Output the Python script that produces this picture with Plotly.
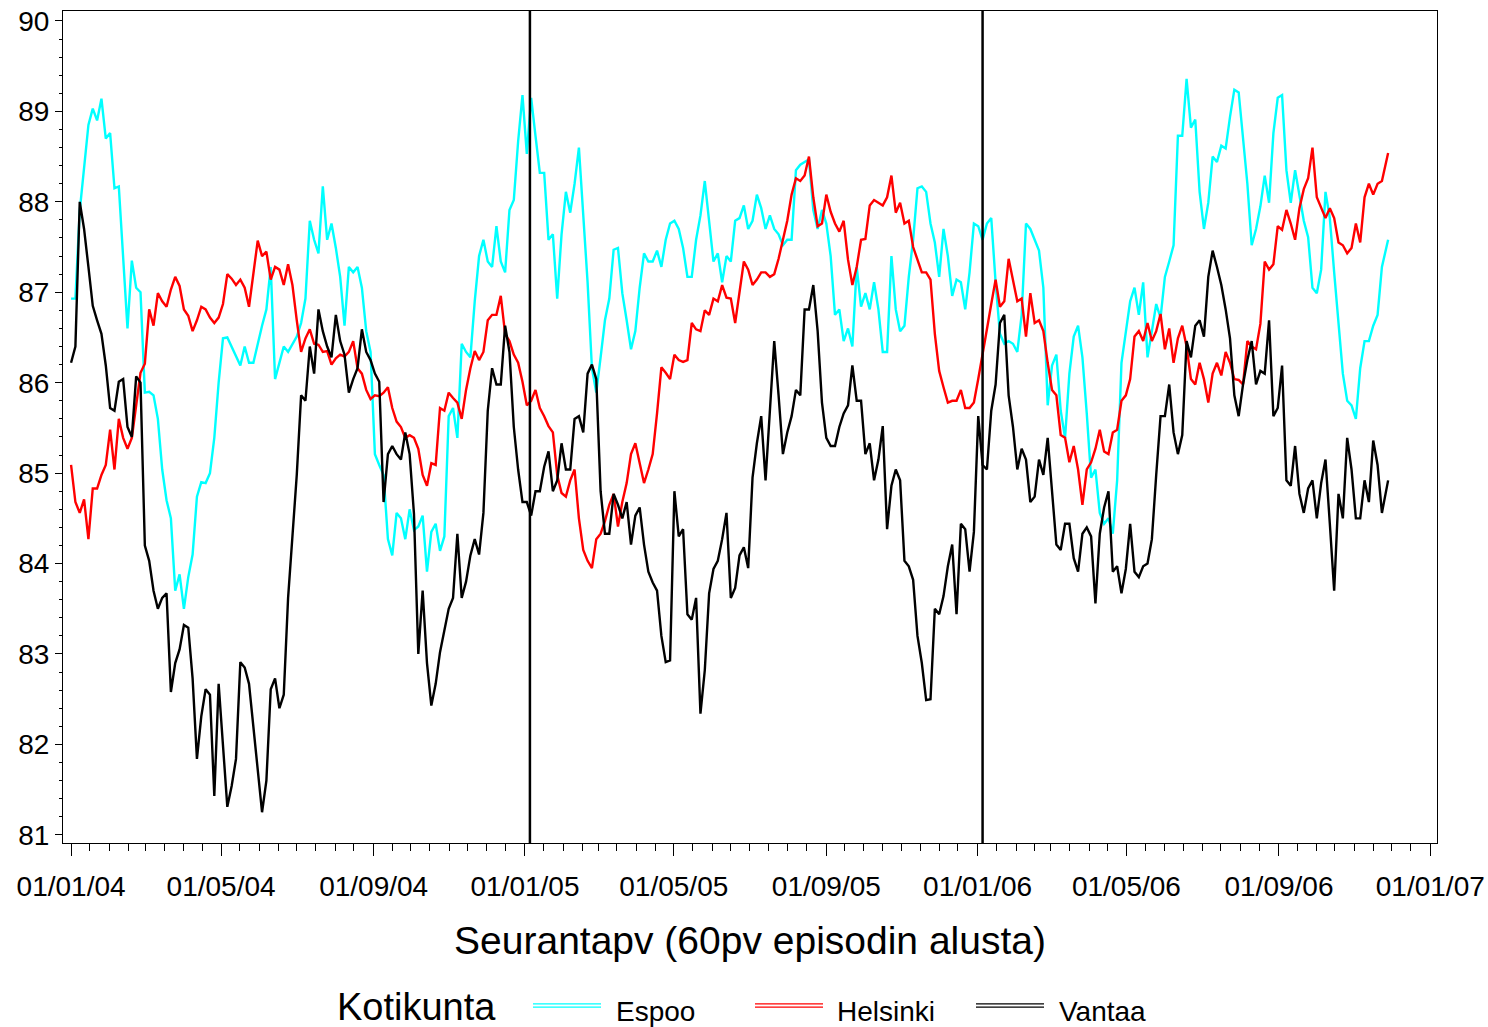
import pandas as pd
import plotly.graph_objects as go

# ---------------- data: readings every 3.5 days from 2004-01-01, last reading 2006-11-28 ----------------
dates = list(pd.date_range("2004-01-01", periods=303, freq="84h")) + [pd.Timestamp("2006-11-28")]

espoo = [
    86.93, 86.93, 87.9, 88.41, 88.85, 89.03, 88.9, 89.14, 88.7, 88.76,
    88.15, 88.17, 87.4, 86.6, 87.35, 87.05, 87.0, 85.89, 85.9, 85.86,
    85.6, 85.04, 84.7, 84.5, 83.7, 83.88, 83.5, 83.85, 84.1, 84.74,
    84.9, 84.89, 85.0, 85.39, 86.0, 86.49, 86.5, 86.4, 86.3, 86.19,
    86.4, 86.22, 86.22, 86.43, 86.63, 86.81, 87.28, 86.04, 86.22, 86.4,
    86.34, 86.43, 86.51, 86.66, 86.93, 87.79, 87.58, 87.43, 88.17, 87.58,
    87.76, 87.49, 87.17, 86.63, 87.28, 87.22, 87.28, 87.05, 86.57, 86.34,
    85.21, 85.09, 84.98, 84.27, 84.09, 84.56, 84.5, 84.27, 84.6, 84.37,
    84.41, 84.53, 83.91, 84.35, 84.44, 84.14, 84.3, 85.63, 85.72, 85.39,
    86.43, 86.34, 86.28, 86.9, 87.4, 87.58, 87.34, 87.28, 87.73, 87.34,
    87.22, 87.91, 88.02, 88.67, 89.18, 88.53, 89.15, 88.73, 88.32, 88.32,
    87.58, 87.64, 86.93, 87.64, 88.11, 87.88, 88.2, 88.6, 87.88, 87.11,
    86.16, 85.89, 86.28, 86.69, 86.93, 87.47, 87.49, 86.99, 86.69, 86.37,
    86.57, 87.05, 87.43, 87.34, 87.34, 87.46, 87.28, 87.58, 87.76, 87.79,
    87.7, 87.49, 87.17, 87.17, 87.58, 87.85, 88.23, 87.82, 87.34, 87.43,
    87.11, 87.4, 87.34, 87.79, 87.82, 87.96, 87.7, 87.79, 88.08, 87.93,
    87.7, 87.85, 87.7, 87.64, 87.52, 87.58, 87.58, 88.35, 88.41, 88.44,
    88.47, 87.91, 87.7, 87.91, 87.76, 87.4, 86.75, 86.81, 86.46, 86.6,
    86.4, 87.28, 86.84, 86.99, 86.81, 87.11, 86.81, 86.34, 86.34, 87.4,
    86.81, 86.57, 86.63, 87.17, 87.58, 88.15, 88.17, 88.11, 87.76, 87.55,
    87.17, 87.7, 87.4, 86.96, 87.14, 87.11, 86.81, 87.22, 87.76, 87.73,
    87.58, 87.76, 87.82, 87.11, 86.54, 86.43, 86.46, 86.43, 86.34, 86.75,
    87.76, 87.7, 87.58, 87.46, 87.05, 85.75, 86.19, 86.31, 85.69, 85.39,
    86.1, 86.51, 86.63, 86.28, 85.66, 84.95, 85.04, 84.56, 84.44, 84.5,
    84.33, 84.92, 86.22, 86.57, 86.9, 87.05, 86.75, 87.11, 86.28, 86.57,
    86.87, 86.72, 87.17, 87.34, 87.52, 88.73, 88.73, 89.36, 88.82, 88.91,
    88.11, 87.7, 87.99, 88.5, 88.44, 88.62, 88.59, 88.94, 89.24, 89.21,
    88.73, 88.2, 87.52, 87.7, 87.95, 88.29, 87.99, 88.76, 89.15, 89.18,
    88.35, 87.99, 88.35, 88.05, 87.79, 87.61, 87.05, 86.99, 87.25, 88.11,
    87.82, 87.22, 86.69, 86.1, 85.8, 85.75, 85.6, 86.16, 86.46, 86.46,
    86.63, 86.75, 87.28, 87.58,
]

helsinki = [
    85.09, 84.68, 84.56, 84.71, 84.27, 84.83, 84.83, 84.98, 85.09, 85.48,
    85.04, 85.6, 85.39, 85.27, 85.39, 85.75, 86.11, 86.21, 86.81, 86.63,
    86.99, 86.9, 86.84, 87.03, 87.17, 87.07, 86.81, 86.74, 86.57, 86.69,
    86.84, 86.81, 86.72, 86.66, 86.72, 86.87, 87.2, 87.15, 87.08, 87.14,
    87.05, 86.84, 87.22, 87.57, 87.4, 87.45, 87.14, 87.28, 87.25, 87.08,
    87.31, 87.08, 86.69, 86.34, 86.49, 86.59, 86.43, 86.42, 86.34, 86.35,
    86.2, 86.27, 86.31, 86.29, 86.34, 86.46, 86.16, 86.1, 85.92, 85.82,
    85.86, 85.85, 85.89, 85.95, 85.72, 85.57, 85.51, 85.39, 85.42, 85.39,
    85.27, 84.98, 84.86, 85.11, 85.09, 85.72, 85.69, 85.89, 85.83, 85.78,
    85.6, 85.92, 86.16, 86.35, 86.25, 86.34, 86.69, 86.75, 86.75, 86.96,
    86.54, 86.46, 86.31, 86.22, 86.01, 85.75, 85.8, 85.92, 85.72, 85.63,
    85.52, 85.45, 84.98, 84.78, 84.74, 84.92, 85.04, 84.5, 84.15, 84.03,
    83.95, 84.27, 84.33, 84.47, 84.65, 84.77, 84.41, 84.68, 84.89, 85.21,
    85.33, 85.09, 84.89, 85.04, 85.21, 85.66, 86.17, 86.11, 86.04, 86.31,
    86.25, 86.23, 86.25, 86.66, 86.59, 86.57, 86.8, 86.75, 86.93, 86.9,
    87.08, 86.94, 86.93, 86.66, 86.99, 87.34, 87.25, 87.08, 87.14, 87.22,
    87.22, 87.17, 87.2, 87.37, 87.58, 87.79, 88.08, 88.26, 88.23, 88.29,
    88.5, 88.05, 87.73, 87.76, 88.08, 87.89, 87.76, 87.67, 87.79, 87.36,
    87.08, 87.28, 87.58, 87.59, 87.96, 88.02, 87.99, 87.96, 88.05, 88.29,
    87.88, 87.99, 87.76, 87.79, 87.5, 87.35, 87.22, 87.22, 87.14, 86.54,
    86.13, 85.95, 85.78, 85.8, 85.8, 85.92, 85.72, 85.72, 85.78, 86.04,
    86.34, 86.59, 86.87, 87.14, 86.84, 86.9, 87.37, 87.14, 86.9, 86.93,
    86.51, 86.99, 86.66, 86.69, 86.57, 86.22, 85.92, 85.86, 85.42, 85.39,
    85.12, 85.3, 85.04, 84.65, 85.04, 85.12, 85.27, 85.48, 85.24, 85.21,
    85.45, 85.48, 85.8, 85.86, 86.04, 86.51, 86.57, 86.46, 86.66, 86.46,
    86.57, 86.76, 86.37, 86.6, 86.22, 86.49, 86.63, 86.4, 86.04, 85.98,
    86.22, 86.04, 85.78, 86.1, 86.22, 86.08, 86.34, 86.22, 86.04, 86.03,
    85.98, 86.46, 86.4, 86.37, 86.65, 87.34, 87.25, 87.31, 87.73, 87.69,
    87.91, 87.76, 87.58, 87.93, 88.14, 88.26, 88.6, 88.05, 87.93, 87.82,
    87.93, 87.82, 87.55, 87.52, 87.43, 87.49, 87.76, 87.55, 88.05, 88.2,
    88.08, 88.2, 88.23, 88.54,
]

vantaa = [
    86.22, 86.4, 88.0, 87.7, 87.28, 86.85, 86.69, 86.54, 86.19, 85.72,
    85.69, 86.01, 86.04, 85.51, 85.4, 86.07, 86.0, 84.2, 84.03, 83.7,
    83.5, 83.62, 83.67, 82.58, 82.9, 83.05, 83.32, 83.29, 82.73, 81.84,
    82.31, 82.61, 82.55, 81.43, 82.67, 81.96, 81.31, 81.54, 81.84, 82.91,
    82.85, 82.67, 82.2, 81.78, 81.25, 81.6, 82.61, 82.73, 82.4, 82.55,
    83.62, 84.3, 84.98, 85.86, 85.8, 86.4, 86.1, 86.81, 86.57, 86.4,
    86.28, 86.75, 86.46, 86.31, 85.89, 86.04, 86.16, 86.59, 86.34, 86.25,
    86.1, 86.01, 84.68, 85.21, 85.3, 85.21, 85.15, 85.45, 85.21, 84.55,
    83.0, 83.7, 82.9, 82.43, 82.67, 83.02, 83.26, 83.5, 83.62, 84.33,
    83.62, 83.8, 84.09, 84.27, 84.1, 84.56, 85.69, 86.16, 85.98, 85.98,
    86.63, 86.34, 85.51, 85.04, 84.68, 84.68, 84.53, 84.8, 84.8, 85.07,
    85.24, 84.8, 84.92, 85.33, 85.04, 85.04, 85.6, 85.63, 85.45, 86.1,
    86.2, 86.04, 84.8, 84.33, 84.33, 84.77, 84.65, 84.5, 84.68, 84.21,
    84.53, 84.62, 84.21, 83.91, 83.79, 83.7, 83.2, 82.91, 82.93, 84.8,
    84.3, 84.38, 83.44, 83.38, 83.62, 82.34, 82.82, 83.67, 83.94, 84.03,
    84.27, 84.56, 83.62, 83.73, 84.09, 84.18, 83.95, 84.95, 85.33, 85.63,
    84.92, 85.69, 86.46, 85.86, 85.21, 85.45, 85.63, 85.92, 85.86, 86.81,
    86.81, 87.08, 86.57, 85.78, 85.39, 85.3, 85.3, 85.51, 85.66, 85.75,
    86.19, 85.8, 85.8, 85.21, 85.33, 84.92, 85.15, 85.52, 84.38, 84.86,
    85.04, 84.92, 84.03, 83.97, 83.82, 83.2, 82.9, 82.49, 82.5, 83.5,
    83.44, 83.64, 83.97, 84.21, 83.44, 84.44, 84.38, 83.91, 84.35, 85.63,
    85.09, 85.04, 85.69, 85.98, 86.66, 86.75, 85.86, 85.51, 85.04, 85.27,
    85.15, 84.68, 84.74, 85.15, 84.98, 85.39, 84.8, 84.21, 84.15, 84.44,
    84.44, 84.06, 83.91, 84.33, 84.4, 84.3, 83.56, 84.33, 84.62, 84.8,
    83.91, 83.97, 83.67, 83.94, 84.44, 83.91, 83.85, 83.97, 84.0, 84.27,
    84.98, 85.63, 85.63, 85.98, 85.45, 85.21, 85.42, 86.46, 86.28, 86.63,
    86.69, 86.51, 87.17, 87.46, 87.28, 87.08, 86.81, 86.49, 85.86, 85.63,
    85.98, 86.25, 86.46, 85.98, 86.13, 86.1, 86.69, 85.63, 85.72, 86.19,
    84.92, 84.86, 85.3, 84.77, 84.56, 84.83, 84.92, 84.5, 84.89, 85.15,
    84.44, 83.7, 84.77, 84.5, 85.39, 85.04, 84.5, 84.5, 84.92, 84.68,
    85.36, 85.09, 84.56, 84.92,
]

series_names = ["Espoo", "Helsinki", "Vantaa"]
series_values = [espoo, helsinki, vantaa]
series_colors = ["#00FFFF", "#FF0000", "#000000"]

ref_dates = ["2005-01-05", "2006-01-05"]

y_ticks = list(range(81, 91))
x_major = list(pd.date_range("2004-01-01", "2007-01-01", freq="4MS"))
x_major_text = [d.strftime("%d/%m/%y") for d in x_major]

x_title = "Seurantapv (60pv episodin alusta)"
legend_title = "Kotikunta"

# ---------------- layout geometry ----------------
W, H = 1488, 1027
L, R, T, B = 63, 51, 11, 184
PW, PH = W - L - R, H - T - B
FONT = "Liberation Sans, Arial, sans-serif"

def px_x(px):
    return (px - L) / PW

def px_y(py):
    return (H - B - py) / PH

x_range = [pd.Timestamp("2003-12-25 12:00"), pd.Timestamp("2007-01-06 10:00")]

minor_ticks = []
for m in pd.date_range("2003-12-01", "2007-01-01", freq="MS"):
    for d in (m, m + pd.Timedelta(days=15)):
        if x_range[0] <= d <= x_range[1] and d not in x_major:
            minor_ticks.append(d)

fig = go.Figure()
for name, vals, col in zip(series_names, series_values, series_colors):
    fig.add_trace(go.Scatter(x=dates, y=vals, mode="lines", name=name,
                             line=dict(color=col, width=2.4), showlegend=False))

for d in ref_dates:
    fig.add_shape(type="line", xref="x", yref="paper", x0=d, x1=d, y0=0, y1=1,
                  line=dict(color="black", width=2.5), layer="above")

# legend drawn manually (title, double-line samples, labels)
fig.add_annotation(text=legend_title, xref="paper", yref="paper", x=px_x(335), y=px_y(1007),
                   xanchor="left", yanchor="middle", showarrow=False,
                   font=dict(family=FONT, size=38, color="black"))
legend_items = [(533, 614), (755, 835), (976, 1057)]
for (sx, tx), name, col in zip(legend_items, series_names, series_colors):
    for dy in (-1.6, 1.6):
        fig.add_shape(type="line", xref="paper", yref="paper",
                      x0=px_x(sx), x1=px_x(sx + 68), y0=px_y(1005.5 + dy), y1=px_y(1005.5 + dy),
                      line=dict(color=col, width=1.4))
    fig.add_annotation(text=name, xref="paper", yref="paper", x=px_x(tx), y=px_y(1011),
                       xanchor="left", yanchor="middle", showarrow=False,
                       font=dict(family=FONT, size=28, color="black"))

fig.update_layout(
    width=W, height=H, margin=dict(l=L, r=R, t=T, b=B, pad=0),
    paper_bgcolor="white", plot_bgcolor="white",
    font=dict(family=FONT, size=28, color="black"),
    showlegend=False,
    xaxis=dict(
        type="date", range=x_range, automargin=False,
        tickmode="array", tickvals=x_major, ticktext=x_major_text,
        ticks="outside", ticklen=12, tickwidth=1, tickcolor="black",
        ticklabelstandoff=6,
        showline=True, linecolor="black", linewidth=1, mirror=True,
        showgrid=False, zeroline=False,
        tickfont=dict(family=FONT, size=28, color="black"),
        minor=dict(tickmode="array", tickvals=minor_ticks, ticks="outside",
                   ticklen=7, tickwidth=1, tickcolor="black", showgrid=False),
        title=dict(text=x_title, font=dict(family=FONT, size=39, color="black"), standoff=26),
    ),
    yaxis=dict(
        range=[80.91, 90.11], automargin=False,
        tickmode="array", tickvals=y_ticks,
        ticks="outside", ticklen=7, tickwidth=1, tickcolor="black",
        showline=True, linecolor="black", linewidth=1, mirror=True,
        showgrid=False, zeroline=False,
        tickfont=dict(family=FONT, size=28, color="black"),
        minor=dict(tickmode="linear", tick0=81, dtick=0.2, ticks="outside",
                   ticklen=3.5, tickwidth=1, tickcolor="black", showgrid=False),
    ),
)

fig.write_html("out.html")
